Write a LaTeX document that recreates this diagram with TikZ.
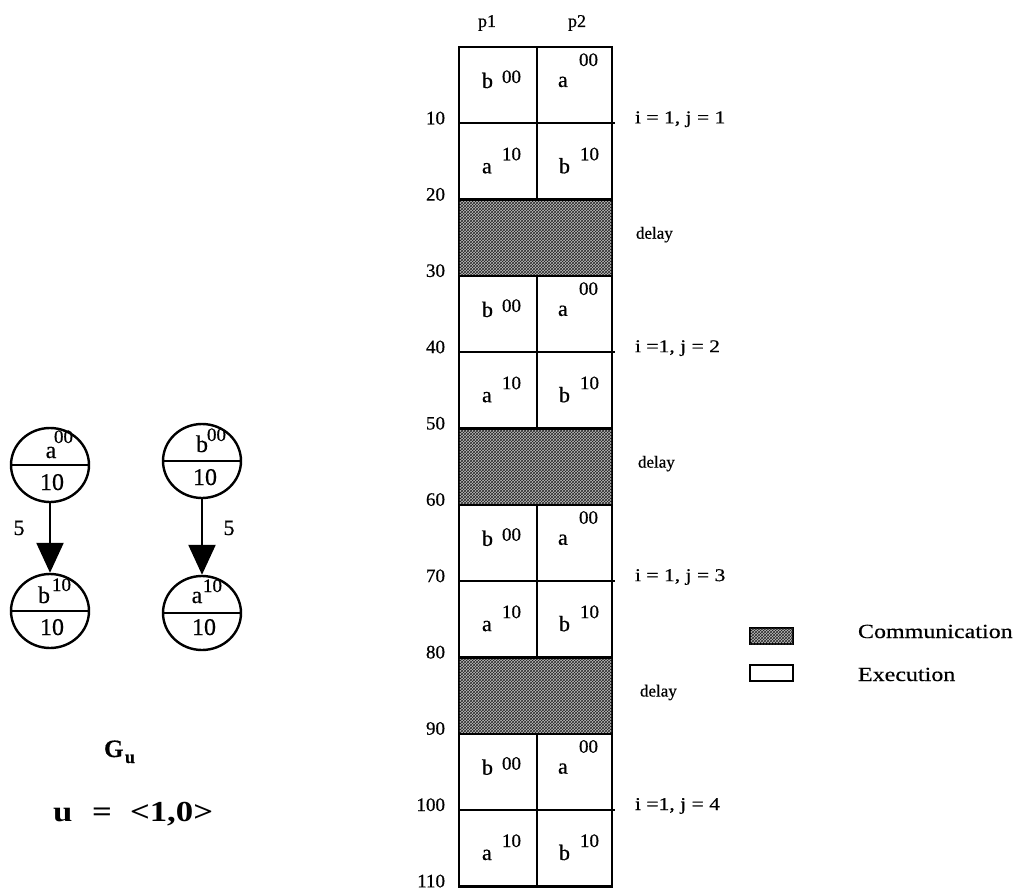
\documentclass[tikz,border=0pt]{standalone}
\usepackage{fontspec}
\setmainfont[FakeBold=0.5]{Liberation Serif}
\newfontfamily\widefont[FakeStretch=1.2,FakeBold=0.5]{Liberation Serif}
\newfontfamily\bigwide[FakeStretch=1.2]{Liberation Serif}
\usetikzlibrary{patterns,arrows.meta,shapes.geometric}
\begin{document}
\begin{tikzpicture}[x=1pt,y=-1pt,
  txt/.style={inner sep=0pt, outer sep=0pt},
  letr/.style={txt, anchor=base west, font=\fontsize{22}{22}\selectfont},
  supr/.style={txt, anchor=base west, font=\fontsize{19}{19}\selectfont},
  tlab/.style={txt, anchor=base east, font=\fontsize{19}{19}\selectfont},
  hlab/.style={txt, anchor=base, font=\fontsize{18}{18}\selectfont},
  ilab/.style={txt, anchor=base west, font=\widefont\fontsize{18}{18}\selectfont},
  dlab/.style={txt, anchor=base west, font=\fontsize{17}{17}\selectfont},
  legtxt/.style={txt, anchor=base west, font=\widefont\fontsize{20}{20}\selectfont},
  box/.style={draw, line width=2.4pt},
  commfill/.style={fill=black!25, postaction={pattern=crosshatch, pattern color=black!85}},
  gnode/.style={ellipse, draw, line width=2.4pt, minimum width=78pt, minimum height=74pt, inner sep=0pt},
  gtxt/.style={txt, anchor=base, font=\fontsize{24}{24}\selectfont},
  gsup/.style={txt, anchor=base west, font=\fontsize{19}{19}\selectfont},
  arr/.style={line width=2.4pt, -{Triangle[width=27pt,length=30pt]}},
  big/.style={txt, anchor=base west, font=\bigwide\bfseries\fontsize{29}{29}\selectfont},
]
\useasboundingbox (0,0) rectangle (1030,890);

% ---------- schedule table ----------
% delay (communication) blocks
\foreach \k in {0,1,2} {
  \pgfmathsetmacro\ya{47+7.63*(30*\k+20)}
  \pgfmathsetmacro\yb{\ya+76.3}
  \pgfmathsetmacro\ym{(\ya+\yb)/2+1}
  \draw[box, commfill] (459,\ya) rectangle (612,\yb);
  \node[dlab] (delay\k) at ({636+2*\k},\ym) {delay};
}
% execution blocks
\foreach \k in {0,1,2,3} {
  \pgfmathsetmacro\ya{47+7.63*30*\k}
  \pgfmathsetmacro\yb{\ya+76.3}
  \pgfmathsetmacro\yc{\yb+76.3}
  \draw[box] (459,\ya) rectangle (612,\yc);
  \draw[box] (537,\ya) -- (537,\yc);
  \draw[box] (459,\yb) -- (615,\yb);
  \node[letr] (pa\k) at (482,\ya+41) {b};
  \node[supr] (pas\k) at (502,\ya+36) {00};
  \node[letr] (qa\k) at (558,\ya+40) {a};
  \node[supr] (qas\k) at (579,\ya+19) {00};
  \node[letr] (pb\k) at (482,\yb+50) {a};
  \node[supr] (pbs\k) at (502,\yb+37) {10};
  \node[letr] (qb\k) at (559,\yb+50) {b};
  \node[supr] (qbs\k) at (580,\yb+37) {10};
}
% time axis
\foreach \t in {10,20,...,110} {
  \node[tlab] (t\t) at (445,{47+7.63*\t+1}) {\t};
}
% headers
\node[hlab] (p1) at (487,27) {p1};
\node[hlab] (p2) at (577,27) {p2};
% iteration labels
\node[ilab] (it1) at (635,{47+7.63*10}) {i = 1, j = 1};
\node[ilab] (it2) at (635,{47+7.63*40}) {i =1, j = 2};
\node[ilab] (it3) at (635,{47+7.63*70}) {i = 1, j = 3};
\node[ilab] (it4) at (635,{47+7.63*100}) {i =1, j = 4};

% ---------- legend ----------
\draw[box, commfill] (750,628) rectangle (793,644);
\node[legtxt] (lcomm) at (858,638) {Communication};
\draw[box] (750,665) rectangle (793,681);
\node[legtxt] (lexec) at (858,681) {Execution};

% ---------- graph G_u ----------
\node[gnode] (n1) at (50,465) {};
\node[gnode] (n2) at (202,461) {};
\node[gnode] (n3) at (50,611) {};
\node[gnode] (n4) at (202,613) {};
\foreach \n in {n1,n2,n3,n4} {
  \draw[line width=2.4pt] (\n.west) -- (\n.east);
}
\node[gtxt] (n1l) at (51,458) {a};
\node[gsup] (n1s) at (54,443) {00};
\node[gtxt] (n1w) at (52,490) {10};
\node[gtxt] (n2l) at (202,452) {b};
\node[gsup] (n2s) at (207,441) {00};
\node[gtxt] (n2w) at (205,485) {10};
\node[gtxt] (n3l) at (44,603) {b};
\node[gsup] (n3s) at (52,591) {10};
\node[gtxt] (n3w) at (52,635) {10};
\node[gtxt] (n4l) at (197,603) {a};
\node[gsup] (n4s) at (203,592) {10};
\node[gtxt] (n4w) at (204,635) {10};
\draw[arr] (n1) -- (n3);
\draw[arr] (n2) -- (n4);
\node[txt, anchor=base, font=\fontsize{22}{22}\selectfont] (w1) at (19,535) {5};
\node[txt, anchor=base, font=\fontsize{22}{22}\selectfont] (w2) at (229,535) {5};

\node[txt, anchor=base west, font=\bfseries\fontsize{25}{25}\selectfont] (G) at (104,757) {G};
\node[txt, anchor=base west, font=\bfseries\fontsize{18}{18}\selectfont] (Gs) at (125,763) {u};
\node[big] (uu) at (53,821) {u};
\node[big] (ueq) at (92,821) {=};
\node[big] (uval) at (130,821) {<1,0>};
\end{tikzpicture}
\end{document}
